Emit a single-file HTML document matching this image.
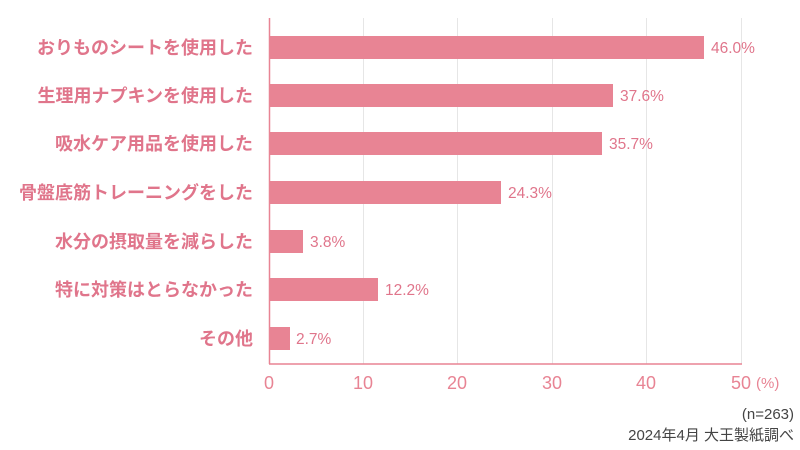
<!DOCTYPE html>
<html><head><meta charset="utf-8"><style>
body{margin:0;background:#fff}
svg{display:block;font-family:"Liberation Sans","Noto Sans CJK JP",sans-serif}
</style></head><body>
<svg width="800" height="450" xmlns="http://www.w3.org/2000/svg">
<g stroke="#e6e6e6" stroke-width="1">
<line x1="363.5" y1="18" x2="363.5" y2="364"/>
<line x1="457.5" y1="18" x2="457.5" y2="364"/>
<line x1="552.5" y1="18" x2="552.5" y2="364"/>
<line x1="646.5" y1="18" x2="646.5" y2="364"/>
<line x1="741.5" y1="18" x2="741.5" y2="364"/>
</g>
<g fill="#e88494">
<rect x="269" y="36" width="435" height="23"/>
<rect x="269" y="84" width="344" height="23"/>
<rect x="269" y="132" width="333" height="23"/>
<rect x="269" y="181" width="232" height="23"/>
<rect x="269" y="230" width="34" height="23"/>
<rect x="269" y="278" width="109" height="23"/>
<rect x="269" y="327" width="21" height="23"/>
</g>
<line x1="269.5" y1="18" x2="269.5" y2="364" stroke="#e88494" stroke-width="1.5"/>
<line x1="269" y1="364" x2="742" y2="364" stroke="#e88494" stroke-width="1.5"/>
<g fill="#e0758b" font-size="18" font-weight="bold" text-anchor="end">
<text x="253" y="54">おりものシートを使用した</text>
<text x="253" y="102">生理用ナプキンを使用した</text>
<text x="253" y="150">吸水ケア用品を使用した</text>
<text x="253" y="199">骨盤底筋トレーニングをした</text>
<text x="253" y="248">水分の摂取量を減らした</text>
<text x="253" y="296">特に対策はとらなかった</text>
<text x="253" y="345">その他</text>
</g>
<g fill="#e0758b" font-size="15.5">
<text x="711" y="53">46.0%</text>
<text x="620" y="101">37.6%</text>
<text x="609" y="149">35.7%</text>
<text x="508" y="198">24.3%</text>
<text x="310" y="247">3.8%</text>
<text x="385" y="295">12.2%</text>
<text x="296" y="344">2.7%</text>
</g>
<g fill="#e88494" font-size="18" text-anchor="middle">
<text x="269" y="389">0</text>
<text x="363" y="389">10</text>
<text x="457" y="389">20</text>
<text x="552" y="389">30</text>
<text x="646" y="389">40</text>
<text x="741" y="389">50</text>
</g>
<text x="756" y="388" fill="#e88494" font-size="15">(%)</text>
<g fill="#444" font-size="15" text-anchor="end">
<text x="794" y="419">(n=263)</text>
<text x="794" y="440">2024年4月 大王製紙調べ</text>
</g>
</svg>
</body></html>
